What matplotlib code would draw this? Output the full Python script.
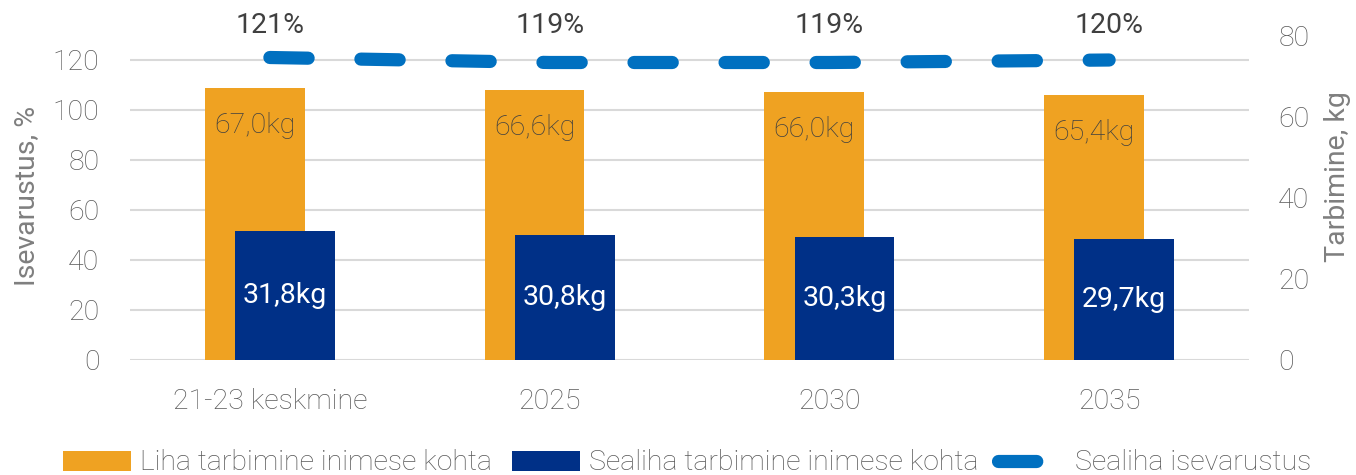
import numpy as np
from matplotlib import pyplot as plt

plt.rcParams['font.family'] = ['Roboto', 'DejaVu Sans']
plt.rcParams['font.weight'] = 'light'

categories = ['21-23 keskmine', '2025', '2030', '2035']
liha = [67.0, 66.6, 66.0, 65.4]
sealiha = [31.8, 30.8, 30.3, 29.7]
isevarustus = [121, 119, 119, 120]

orange = '#EFA222'
navy = '#003087'
blue = '#0070C0'
grey = '#595959'
fs = 20.5

fig = plt.figure(figsize=(13.56, 4.75), dpi=100)
ax = fig.add_axes([130 / 1356, 1 - 360 / 475, 1119 / 1356, 328 / 475])
ax2 = ax.twinx()

x = np.arange(len(categories))
w = 0.357
off = 0.054

# bars on the right (kg) axis
b1 = ax2.bar(x - off, liha, width=w, color=orange, label='Liha tarbimine inimese kohta')
b2 = ax2.bar(x + off, sealiha, width=w, color=navy, label='Sealiha tarbimine inimese kohta')

for i in range(len(x)):
    ax2.annotate('{:.1f}kg'.format(liha[i]).replace('.', ','), (x[i] - off, liha[i]),
                 xytext=(0, -27), textcoords='offset points', ha='center', va='center',
                 fontsize=fs, color='#404040', fontweight='light')
    ax2.text(x[i] + off, sealiha[i] / 2, '{:.1f}kg'.format(sealiha[i]).replace('.', ','),
             ha='center', va='center', fontsize=fs, color='white', fontweight='normal')

# self-sufficiency line on the left (%) axis
ln, = ax.plot(x, isevarustus, color=blue, lw=9.5, dashes=(2.9, 4.0),
              solid_capstyle='round', dash_capstyle='round', label='Sealiha isevarustus')
for i in range(len(x)):
    ax.text(x[i], 1.021, '{}%'.format(isevarustus[i]), transform=ax.get_xaxis_transform(),
            ha='center', va='center', fontsize=fs, color='#404040', fontweight='normal')

ax.set_xlim(-0.5, 3.5)
ax.set_ylim(0, 131.2)
ax.set_yticks(range(0, 121, 20))
ax2.set_ylim(0, 80.8)
ax2.set_yticks(range(0, 81, 20))
ax.set_xticks(x)
ax.set_xticklabels(categories)

ax.yaxis.grid(True, color='#d9d9d9', lw=1.5)
ax.set_axisbelow(True)

for a in (ax, ax2):
    for s in a.spines.values():
        s.set_visible(False)
    a.tick_params(length=0, labelsize=fs, labelcolor=grey)
ax.tick_params(axis='y', pad=22)
ax.tick_params(axis='x', pad=20)
ax2.tick_params(axis='y', pad=21)

ax.set_ylabel('Isevarustus, %', fontsize=fs, color='#7f7f7f')
ax.yaxis.set_label_coords(-0.080, 0.5)
ax2.set_ylabel('Tarbimine, kg', fontsize=fs, color='#7f7f7f', rotation=90)
ax2.yaxis.set_label_coords(1.067, 0.56)

fig.legend([b1, b2, ln], [b1.get_label(), b2.get_label(), ln.get_label()],
           loc='center', bbox_to_anchor=(687 / 1356, 12 / 475), ncol=3, frameon=False,
           fontsize=fs, labelcolor=grey, handlelength=2.4, handletextpad=0.3,
           columnspacing=0.7)

fig.savefig('out.png', dpi=100)
